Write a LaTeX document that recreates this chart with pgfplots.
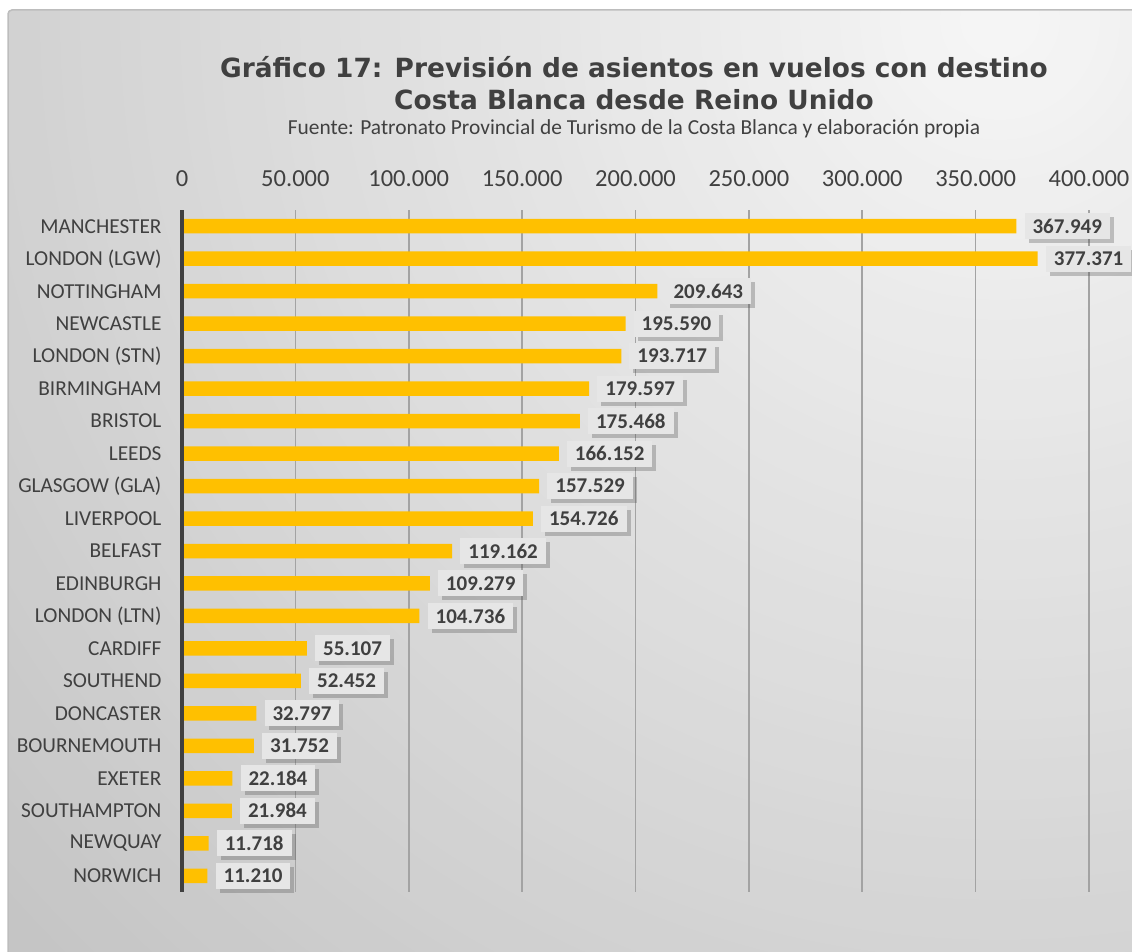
\documentclass[border=0pt]{standalone}
\usepackage{pgfplots}
\pgfplotsset{compat=1.18}
\usepackage{fontspec}
\setmainfont{Carlito}
\newfontfamily\titlefont{DejaVu Sans}
\usetikzlibrary{shadows}

\definecolor{bargold}{HTML}{FFC000}
\definecolor{txtgray}{HTML}{404040}
\definecolor{gridgray}{HTML}{A3A3A3}
\definecolor{boxgray}{HTML}{E6E6E6}
\definecolor{framegray}{HTML}{BDBDBD}

\begin{document}
\begin{tikzpicture}[x=1pt,y=1pt]
\useasboundingbox (0,0) rectangle (1132,951);
% background panel: radial gradient from the top right
\begin{scope}
  \clip[rounded corners=4pt] (8,-10) rectangle (1142,941);
  \foreach \r in {1500,1480,...,20} {
    \pgfmathsetmacro{\g}{max(0.75,0.965-0.2*\r/1400)}
    \definecolor{bgc}{rgb}{\g,\g,\g}
    \fill[bgc] (1000,931) circle (\r);
  }
\end{scope}
\draw[framegray,line width=1.5pt,rounded corners=4pt] (8,-10) rectangle (1142,941);

% titles
\node[font=\titlefont\bfseries\fontsize{26.4}{30}\selectfont,text=txtgray] at (634,884)
  {Gráfico 17: Previsión de asientos en vuelos con destino};
\node[font=\titlefont\bfseries\fontsize{26.4}{30}\selectfont,text=txtgray] at (634,851)
  {Costa Blanca desde Reino Unido};
\node[font=\fontsize{21.4}{25}\selectfont,text=txtgray] at (634,822)
  {Fuente: Patronato Provincial de Turismo de la Costa Blanca y elaboración propia};

\begin{axis}[
  at={(182pt,59pt)}, anchor=south west,
  scale only axis, width=907pt, height=682pt,
  xmin=0, xmax=400000, ymin=-0.5, ymax=20.5,
  y dir=reverse,
  axis line style={draw=none},
  xtick={0,50000,100000,150000,200000,250000,300000,350000,400000},
  xticklabel pos=top,
  scaled x ticks=false,
  xticklabel style={/pgf/number format/fixed,/pgf/number format/1000 sep={.},
    /pgf/number format/assume math mode=true,
    font=\fontsize{24.5}{28}\selectfont,text=txtgray,yshift=20pt},
  ytick={0,...,20},
  yticklabels={MANCHESTER,LONDON (LGW),NOTTINGHAM,NEWCASTLE,LONDON (STN),BIRMINGHAM,BRISTOL,LEEDS,GLASGOW (GLA),LIVERPOOL,BELFAST,EDINBURGH,LONDON (LTN),CARDIFF,SOUTHEND,DONCASTER,BOURNEMOUTH\ ,EXETER,SOUTHAMPTON,NEWQUAY,NORWICH},
  yticklabel style={font=\fontsize{21.3}{24}\selectfont,text=txtgray,xshift=-17pt},
  major tick length=0pt,
  xmajorgrids, major grid style={gridgray,line width=1.6pt},
  xbar, bar width=14.5pt, bar shift=0pt,
  point meta=explicit symbolic,
  nodes near coords={\pgfplotspointmeta},
  nodes near coords style={anchor=west, xshift=8pt, fill=boxgray,
    inner xsep=8pt, minimum height=26pt, text=txtgray,
    font=\bfseries\fontsize{21}{24}\selectfont,
    drop shadow={shadow xshift=4pt, shadow yshift=-4pt, fill=black!70, opacity=0.3}},
  clip=false,
]
\addplot[fill=bargold, draw=none] coordinates {
  (367949,0) [367.949]
  (377371,1) [377.371]
  (209643,2) [209.643]
  (195590,3) [195.590]
  (193717,4) [193.717]
  (179597,5) [179.597]
  (175468,6) [175.468]
  (166152,7) [166.152]
  (157529,8) [157.529]
  (154726,9) [154.726]
  (119162,10) [119.162]
  (109279,11) [109.279]
  (104736,12) [104.736]
  (55107,13) [55.107]
  (52452,14) [52.452]
  (32797,15) [32.797]
  (31752,16) [31.752]
  (22184,17) [22.184]
  (21984,18) [21.984]
  (11718,19) [11.718]
  (11210,20) [11.210]
};
\draw[txtgray,line width=4.5pt] (axis cs:0,-0.5) -- (axis cs:0,20.5);
\end{axis}
\end{tikzpicture}
\end{document}
